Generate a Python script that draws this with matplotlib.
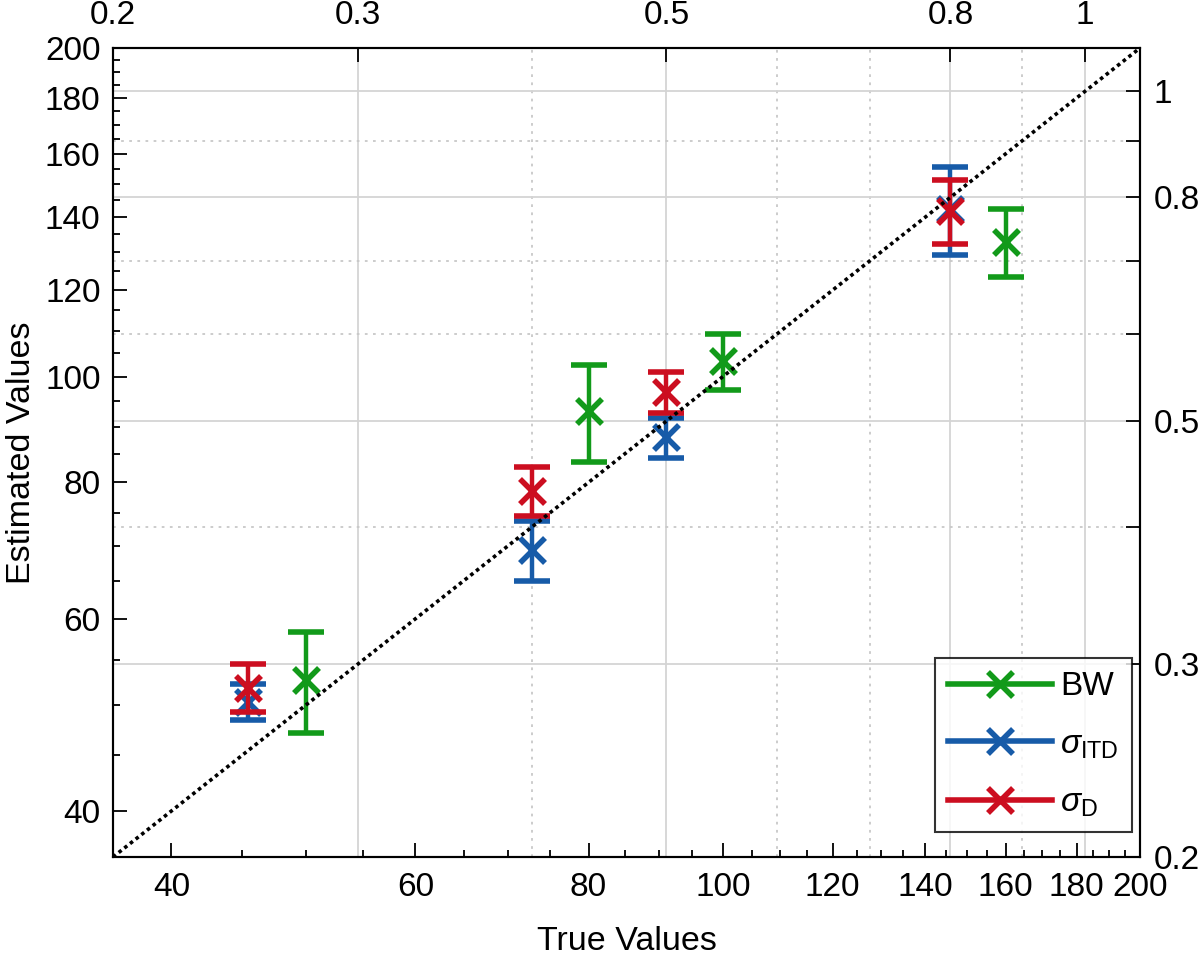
import matplotlib
matplotlib.use("Agg")
import matplotlib.pyplot as plt
from matplotlib.lines import Line2D
from matplotlib.ticker import FixedLocator, NullFormatter, FixedFormatter
import numpy as np

plt.rcParams['font.family'] = ['Liberation Sans', 'DejaVu Sans']
plt.rcParams['mathtext.fontset'] = 'custom'
plt.rcParams['mathtext.rm'] = 'Liberation Sans'
plt.rcParams['mathtext.it'] = 'Liberation Sans:italic'

# ---- data ----
bw_true = [50, 80, 100, 160]
bw_est = [52.75, 93.0, 103.25, 132.9]
bw_err = [5.55, 9.4, 6.05, 9.5]

sig_true = [0.25, 0.4, 0.5, 0.8]
itd_est = [0.2772, 0.3814, 0.483, 0.781]
itd_err = [0.0107, 0.0241, 0.0202, 0.0717]
d_est = [0.2855, 0.4318, 0.5317, 0.7772]
d_err = [0.0143, 0.0226, 0.0228, 0.0518]

prim_lim = [36.3, 200]
sec_lim = [0.2, 1.095]
prim_ticks = [40, 60, 80, 100, 120, 140, 160, 180, 200]
prim_minor = [v for v in range(35, 201, 5) if v not in prim_ticks]
sec_major = [0.2, 0.3, 0.5, 0.8, 1.0]
sec_major_labels = ['0.2', '0.3', '0.5', '0.8', '1']
sec_minor = [0.4, 0.6, 0.7, 0.9]

GREEN = '#129a1a'
BLUE = '#175ba8'
RED = '#cc0e20'

TICK_FS = 24
LABEL_FS = 24.5

fig = plt.figure(figsize=(12, 9.55), dpi=100)
pos = [113 / 1200, 1 - 857 / 955, (1140 - 113) / 1200, (857 - 48) / 955]

# secondary (background) axes: top/right, grid, sigma data
ax2 = fig.add_axes(pos)
ax2.set_xscale('log')
ax2.set_yscale('log')
ax2.set_xlim(sec_lim)
ax2.set_ylim(sec_lim)
ax2.xaxis.set_major_locator(FixedLocator(sec_major))
ax2.xaxis.set_major_formatter(FixedFormatter(sec_major_labels))
ax2.yaxis.set_major_locator(FixedLocator(sec_major))
ax2.yaxis.set_major_formatter(FixedFormatter(sec_major_labels))
ax2.xaxis.set_minor_locator(FixedLocator(sec_minor))
ax2.yaxis.set_minor_locator(FixedLocator(sec_minor))
ax2.xaxis.set_minor_formatter(NullFormatter())
ax2.yaxis.set_minor_formatter(NullFormatter())
ax2.xaxis.tick_top()
ax2.yaxis.tick_right()
ax2.tick_params(axis='both', which='major', direction='in', length=10, width=1.3,
                labelsize=TICK_FS, colors='black')
ax2.tick_params(axis='x', which='major', pad=12)
ax2.tick_params(axis='y', which='major', pad=10)
ax2.tick_params(axis='x', which='minor', length=0)
ax2.tick_params(axis='y', which='minor', direction='in', length=10, width=1.3)
ax2.grid(True, which='major', color='#d4d4d4', linewidth=1.3, linestyle='-')
ax2.grid(True, which='minor', color='#c8c8c8', linewidth=1.3, linestyle=(0, (1.5, 3)))
ax2.set_axisbelow(True)
for s in ax2.spines.values():
    s.set_linewidth(1.5)

ax2.errorbar(sig_true, itd_est, yerr=itd_err, fmt='x', color=BLUE, ms=18, mew=4,
             elinewidth=3.2, capsize=13, capthick=3.2, zorder=3)
ax2.errorbar(sig_true, d_est, yerr=d_err, fmt='x', color=RED, ms=18, mew=4,
             elinewidth=3.2, capsize=13, capthick=3.2, zorder=4)

# primary axes on top: bottom/left, BW data, diagonal, legend
ax = fig.add_axes(pos)
ax.patch.set_visible(False)
ax.set_xscale('log')
ax.set_yscale('log')
ax.set_xlim(prim_lim)
ax.set_ylim(prim_lim)
for axis in (ax.xaxis, ax.yaxis):
    axis.set_major_locator(FixedLocator(prim_ticks))
    axis.set_major_formatter(FixedFormatter([str(t) for t in prim_ticks]))
    axis.set_minor_locator(FixedLocator(prim_minor))
    axis.set_minor_formatter(NullFormatter())
ax.tick_params(axis='both', which='major', direction='in', length=10, width=1.3,
               labelsize=TICK_FS, colors='black')
ax.tick_params(axis='both', which='minor', direction='in', length=5, width=1.3)
ax.tick_params(axis='x', which='major', pad=11)
ax.tick_params(axis='y', which='major', pad=9)
for s in ax.spines.values():
    s.set_linewidth(1.5)

ax.errorbar(bw_true, bw_est, yerr=bw_err, fmt='x', color=GREEN, ms=18, mew=4,
            elinewidth=3.2, capsize=13, capthick=3.2, zorder=3)
ax.plot(prim_lim, prim_lim, color='black', linestyle=(0, (1, 1)), linewidth=2.6, zorder=5)

ax.set_xlabel('True Values', fontsize=LABEL_FS, labelpad=16)
ax.set_ylabel('Estimated Values', fontsize=LABEL_FS, labelpad=6)

handles = [
    Line2D([], [], color=GREEN, marker='x', ms=18, mew=4, lw=4),
    Line2D([], [], color=BLUE, marker='x', ms=18, mew=4, lw=4),
    Line2D([], [], color=RED, marker='x', ms=18, mew=4, lw=4),
]
labels = ['BW', r'$\sigma_{\mathrm{ITD}}$', r'$\sigma_{\mathrm{D}}$']
leg = ax.legend(handles, labels, loc='lower right', bbox_to_anchor=(0.992, 0.031),
                borderaxespad=0, fontsize=24, frameon=True, fancybox=False,
                edgecolor='black', handlelength=3.1, handletextpad=0.25,
                labelspacing=0.8, borderpad=0.4)
leg.get_frame().set_linewidth(1.5)
leg.set_zorder(10)

fig.savefig('out.png', dpi=100)
